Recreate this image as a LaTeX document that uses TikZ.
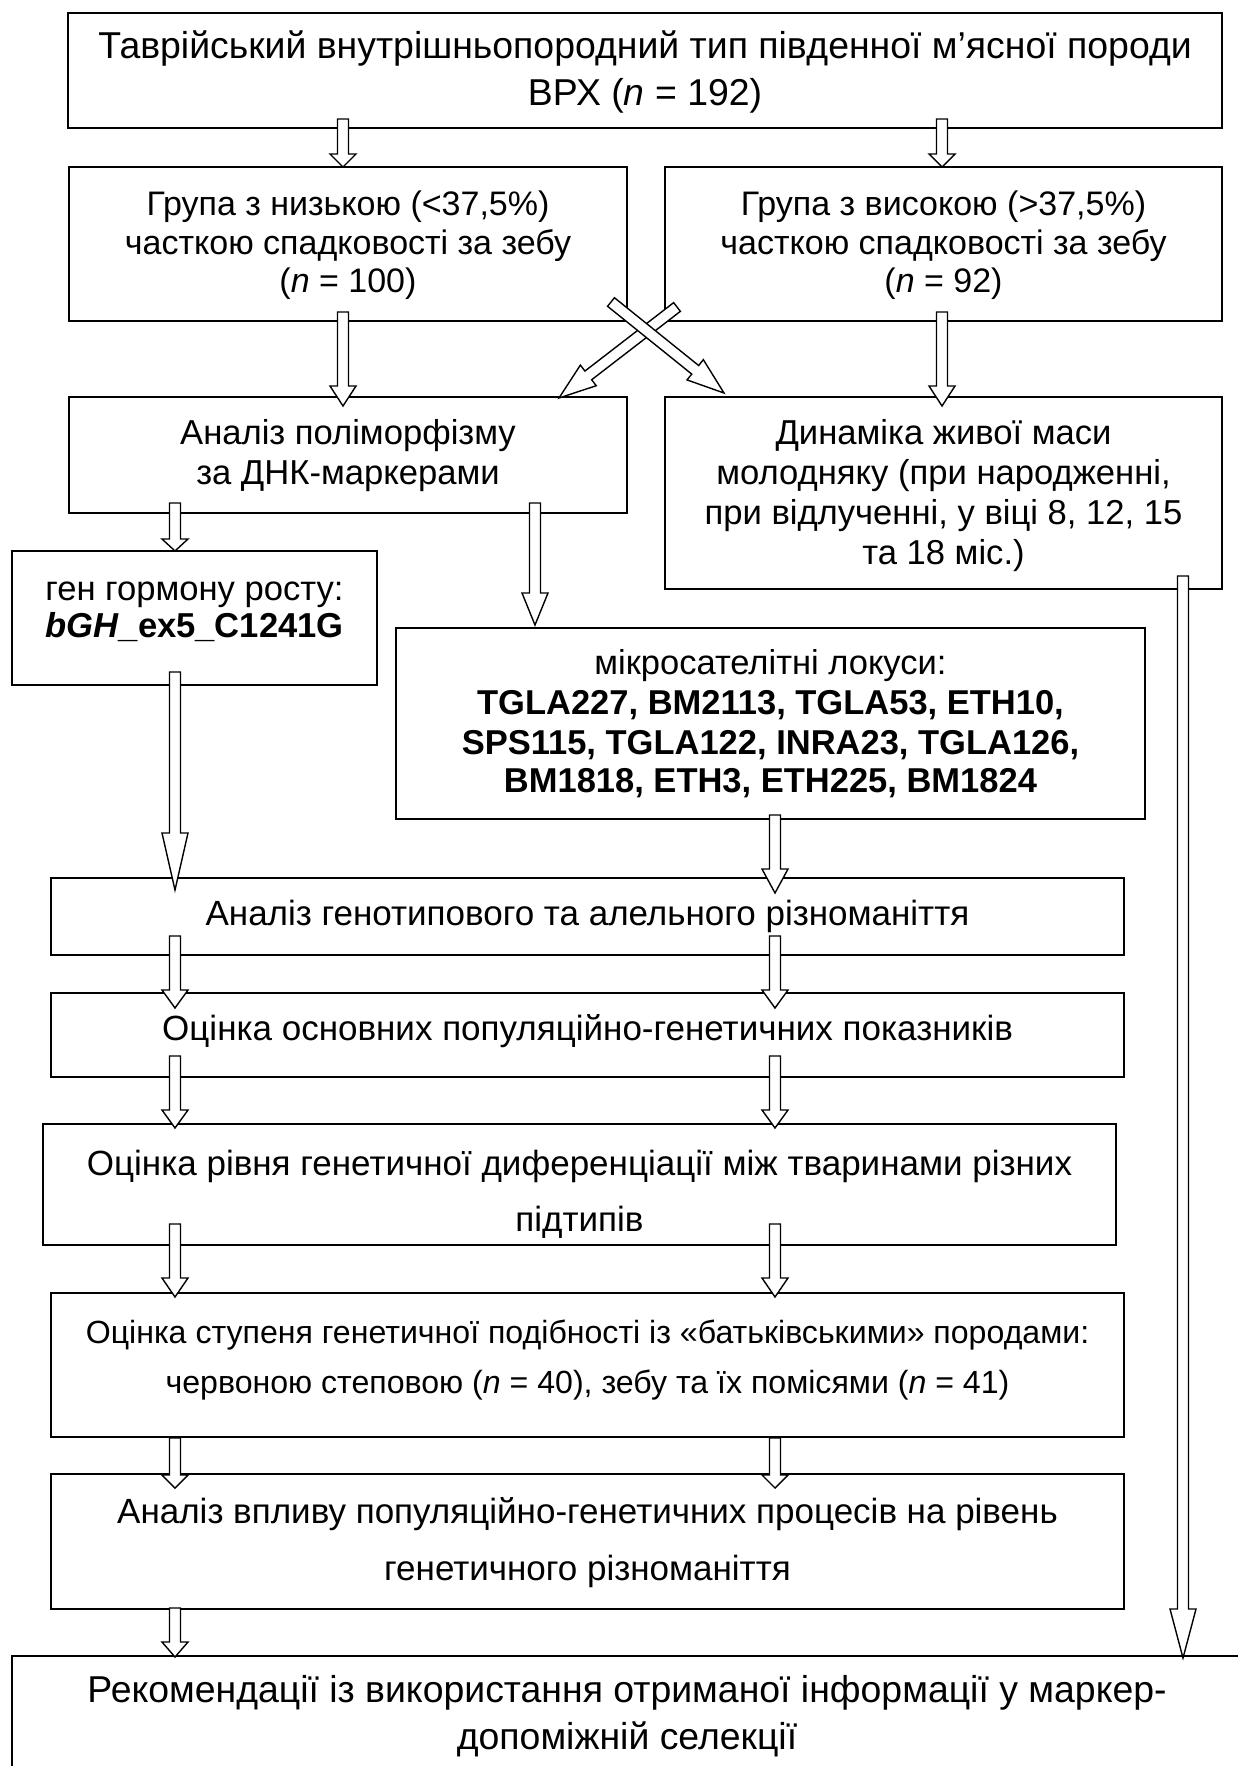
\documentclass[tikz,border=0pt]{standalone}
\usepackage{fontspec}
\setmainfont{Liberation Sans}
\usetikzlibrary{calc}
\newcommand\fsz[1]{\fontsize{#1}{#1}\selectfont}
% #1 head length, #2 start coordinate, #3 tip coordinate
\newcommand\blkarrow[3]{%
  \coordinate (bH) at ($(#3)!#1!(#2)$);
  \draw[blockarrow] ($(#2)!5.5pt!90:(#3)$) -- ($(bH)!5.5pt!90:(#3)$) -- ($(bH)!13pt!90:(#3)$) -- (#3)
     -- ($(bH)!13pt!-90:(#3)$) -- ($(bH)!5.5pt!-90:(#3)$) -- ($(#2)!5.5pt!-90:(#3)$) -- cycle;}
\tikzset{
  box/.style={draw, line width=1.6pt, inner sep=0pt, outer sep=0pt},
  txt/.style={anchor=base, inner sep=0pt},
  blockarrow/.style={draw, fill=white, line width=1.4pt, line join=miter}
}
\begin{document}
\begin{tikzpicture}[x=1pt,y=-1pt]
\useasboundingbox (0,0) rectangle (1237,1766);
\fill[white] (0,0) rectangle (1237,1766);
% boxes
\node[box, minimum width=1154, minimum height=115] (top) at (645,70.5) {};
\node[box, minimum width=558, minimum height=154] (grpL) at (348,244) {};
\node[box, minimum width=557, minimum height=154] (grpR) at (943.5,244) {};
\node[box, minimum width=558, minimum height=116] (anal) at (348,455) {};
\node[box, minimum width=557, minimum height=192] (dyn) at (943.5,493) {};
\node[box, minimum width=365, minimum height=134] (gen) at (194.5,618) {};
\node[box, minimum width=749, minimum height=191] (micro) at (770.5,723.5) {};
\node[box, minimum width=1073, minimum height=77] (genot) at (587.5,916.5) {};
\node[box, minimum width=1073, minimum height=84] (osn) at (587.5,1035) {};
\node[box, minimum width=1073, minimum height=121] (rivn) at (579.5,1184.5) {};
\node[box, minimum width=1073, minimum height=144] (stup) at (587.5,1365) {};
\node[box, minimum width=1073, minimum height=135] (vplyv) at (587.5,1541.5) {};
\node[box, minimum width=1230, minimum height=144] (final) at (627,1728) {};
% texts
\node[txt, font=\fsz{37.4}] (t1a) at (645,59) {Таврійський внутрішньопородний тип південної м’ясної породи};
\node[txt, font=\fsz{37.4}] (t1b) at (645,106) {ВРХ (\textit{n} = 192)};
\node[txt, font=\fsz{34}] (t2a) at (348,215) {Група з низькою (<37,5\%)};
\node[txt, font=\fsz{34}] (t2b) at (348,254) {часткою спадковості за зебу};
\node[txt, font=\fsz{34}] (t2c) at (348,292) {(\textit{n} = 100)};
\node[txt, font=\fsz{34}] (t3a) at (943.5,215) {Група з високою (>37,5\%)};
\node[txt, font=\fsz{34}] (t3b) at (943.5,254) {часткою спадковості за зебу};
\node[txt, font=\fsz{34}] (t3c) at (943.5,292) {(\textit{n} = 92)};
\node[txt, font=\fsz{34.6}] (t4a) at (348,444.5) {Аналіз поліморфізму};
\node[txt, font=\fsz{34.6}] (t4b) at (348,484.5) {за ДНК-маркерами};
\node[txt, font=\fsz{34.6}] (t5a) at (943.5,444.5) {Динаміка живої маси};
\node[txt, font=\fsz{34.6}] (t5b) at (943.5,484.5) {молодняку (при народженні,};
\node[txt, font=\fsz{34.6}] (t5c) at (943.5,524.5) {при відлученні, у віці 8, 12, 15};
\node[txt, font=\fsz{34.6}] (t5d) at (943.5,564.5) {та 18 міс.)};
\node[txt, font=\fsz{34.6}] (t6a) at (194.5,600.5) {ген гормону росту:};
\node[txt, font=\fsz{34.6}\bfseries] (t6b) at (194.5,637.5) {\textit{bGH}\_ex5\_C1241G};
\node[txt, font=\fsz{34.5}] (t7a) at (770.5,674.5) {мікросателітні локуси:};
\node[txt, font=\fsz{34.5}\bfseries] (t7b) at (770.5,714.5) {TGLA227, BM2113, TGLA53, ETH10,};
\node[txt, font=\fsz{34.5}\bfseries] (t7c) at (770.5,754.5) {SPS115, TGLA122, INRA23, TGLA126,};
\node[txt, font=\fsz{34.5}\bfseries] (t7d) at (770.5,792.5) {BM1818, ETH3, ETH225, BM1824};
\node[txt, font=\fsz{35}] (t8) at (587.5,925) {Аналіз генотипового та алельного різноманіття};
\node[txt, font=\fsz{35}] (t9) at (587.5,1040) {Оцінка основних популяційно-генетичних показників};
\node[txt, font=\fsz{35}] (t10a) at (579.5,1175) {Оцінка рівня генетичної диференціації між тваринами різних};
\node[txt, font=\fsz{35}] (t10b) at (579.5,1231) {підтипів};
\node[txt, font=\fsz{32.1}] (t11a) at (587.5,1343.5) {Оцінка ступеня генетичної подібності із «батьківськими» породами:};
\node[txt, font=\fsz{32.1}] (t11b) at (587.5,1393.5) {червоною степовою (\textit{n} = 40), зебу та їх помісями (\textit{n} = 41)};
\node[txt, font=\fsz{35}] (t12a) at (587.5,1523) {Аналіз впливу популяційно-генетичних процесів на рівень};
\node[txt, font=\fsz{35}] (t12b) at (587.5,1580) {генетичного різноманіття};
\node[txt, font=\fsz{37.4}] (t13a) at (627,1702) {Рекомендації із використання отриманої інформації у маркер-};
\node[txt, font=\fsz{37.4}] (t13b) at (627,1749) {допоміжній селекції};
% arrow end points
\coordinate (s1) at ($(top.south -| 343,0)+(0,-9)$);   \coordinate (e1) at (grpL.north -| 343,0);
\coordinate (s2) at ($(top.south -| 942,0)+(0,-9)$);   \coordinate (e2) at (grpR.north -| 942,0);
\coordinate (s3) at ($(grpL.south -| 343,0)+(0,-9)$);  \coordinate (e3) at ($(anal.north -| 343,0)+(0,9)$);
\coordinate (s4) at ($(grpR.south -| 942,0)+(0,-9)$);  \coordinate (e4) at ($(dyn.north -| 942,0)+(0,9)$);
\coordinate (s5) at ($(grpL.south -| 611,0)+(0,-19)$); \coordinate (e5) at ($(dyn.north -| 724,0)+(0,-4)$);
\coordinate (s6) at ($(grpR.south -| 677,0)+(0,-14)$); \coordinate (e6) at ($(anal.north -| 559,0)+(0,1)$);
\coordinate (s7) at ($(anal.south -| 175,0)+(0,-10)$); \coordinate (e7) at (gen.north -| 175,0);
\coordinate (s8) at ($(anal.south -| 535,0)+(0,-10)$); \coordinate (e8) at ($(micro.north -| 535,0)+(0,-3)$);
\coordinate (s9) at ($(gen.south -| 175,0)+(0,-13)$);  \coordinate (e9) at ($(genot.north -| 175,0)+(0,12)$);
\coordinate (s10) at ($(micro.south -| 775,0)+(0,-4)$); \coordinate (e10) at ($(genot.north -| 775,0)+(0,15)$);
\coordinate (s11) at ($(genot.south -| 175,0)+(0,-19)$); \coordinate (e11) at ($(osn.north -| 175,0)+(0,15)$);
\coordinate (s12) at ($(genot.south -| 775,0)+(0,-19)$); \coordinate (e12) at ($(osn.north -| 775,0)+(0,15)$);
\coordinate (s13) at ($(osn.south -| 175,0)+(0,-21)$); \coordinate (e13) at ($(rivn.north -| 175,0)+(0,4)$);
\coordinate (s14) at ($(osn.south -| 775,0)+(0,-21)$); \coordinate (e14) at ($(rivn.north -| 775,0)+(0,4)$);
\coordinate (s15) at ($(rivn.south -| 175,0)+(0,-21)$); \coordinate (e15) at ($(stup.north -| 175,0)+(0,4)$);
\coordinate (s16) at ($(rivn.south -| 775,0)+(0,-21)$); \coordinate (e16) at ($(stup.north -| 775,0)+(0,4)$);
\coordinate (s17) at ($(stup.south -| 175,0)+(0,1)$);  \coordinate (e17) at ($(vplyv.north -| 175,0)+(0,14)$);
\coordinate (s18) at ($(stup.south -| 775,0)+(0,1)$);  \coordinate (e18) at ($(vplyv.north -| 775,0)+(0,14)$);
\coordinate (s19) at ($(vplyv.south -| 175,0)+(0,-1)$); \coordinate (e19) at ($(final.north -| 175,0)+(0,1)$);
\coordinate (s20) at ($(dyn.south -| 1183,0)+(0,-13)$); \coordinate (e20) at ($(final.north -| 1183,0)+(0,2)$);
% arrows
\blkarrow{13pt}{s1}{e1}
\blkarrow{13pt}{s2}{e2}
\blkarrow{20pt}{s3}{e3}
\blkarrow{20pt}{s4}{e4}
\blkarrow{37pt}{s6}{e6}
\blkarrow{37pt}{s5}{e5}
\blkarrow{12pt}{s7}{e7}
\blkarrow{32pt}{s8}{e8}
\blkarrow{57pt}{s9}{e9}
\blkarrow{24pt}{s10}{e10}
\blkarrow{18pt}{s11}{e11}
\blkarrow{18pt}{s12}{e12}
\blkarrow{18pt}{s13}{e13}
\blkarrow{18pt}{s14}{e14}
\blkarrow{19pt}{s15}{e15}
\blkarrow{19pt}{s16}{e16}
\blkarrow{13pt}{s17}{e17}
\blkarrow{13pt}{s18}{e18}
\blkarrow{15pt}{s19}{e19}
\blkarrow{49pt}{s20}{e20}
\end{tikzpicture}
\end{document}
